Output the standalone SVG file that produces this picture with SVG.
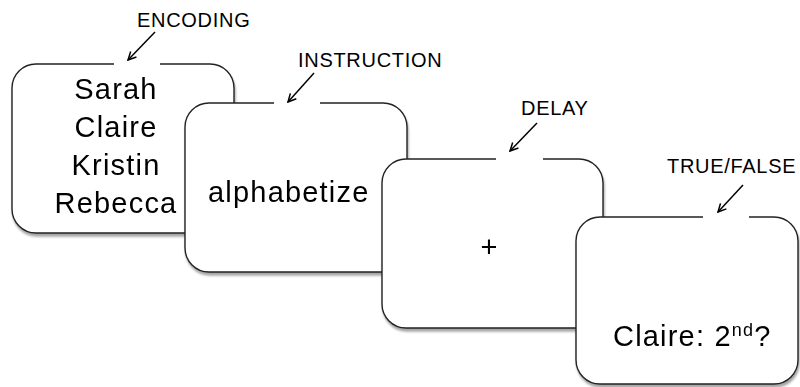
<svg xmlns="http://www.w3.org/2000/svg" width="800" height="387" viewBox="0 0 800 387">
<style>
  .bg { fill: #ffffff; stroke: none; }
  .edge { fill: none; stroke: #222222; stroke-width: 1.4; }
  .box { filter: url(#shadow); }
  .main { font-family: "Liberation Sans", Arial, sans-serif; font-size: 29px; fill: #000000; letter-spacing: 1.2px; }
  .label { font-family: "Liberation Sans", Arial, sans-serif; font-size: 20px; fill: #000000; letter-spacing: 0.7px; }
  .arrow { stroke: #000000; stroke-width: 1.5; fill: none; marker-end: url(#head); }
</style>
<defs>
  <filter id="shadow" x="-10%" y="-10%" width="125%" height="125%">
    <feDropShadow dx="1" dy="3" stdDeviation="1.2" flood-color="#000000" flood-opacity="0.35"/>
  </filter>
  <marker id="head" viewBox="0 0 10 10" refX="9" refY="5" markerWidth="10" markerHeight="10" markerUnits="userSpaceOnUse" orient="auto">
    <path d="M1,1 L9,5 L1,9" fill="none" stroke="#000000" stroke-width="1.5"/>
  </marker>
</defs>
<rect width="800" height="387" fill="#ffffff"/>

<g id="encoding" class="box">
  <rect class="bg" x="12" y="64" width="222" height="169" rx="24"/>
  <path class="edge" d="M160 64 H210 A24 24 0 0 1 234 88 V209 A24 24 0 0 1 210 233 H36 A24 24 0 0 1 12 209 V88 A24 24 0 0 1 36 64 H114"/>
  <text class="main" x="116" y="99" text-anchor="middle">Sarah</text>
  <text class="main" x="116" y="137" text-anchor="middle">Claire</text>
  <text class="main" x="116" y="175" text-anchor="middle">Kristin</text>
  <text class="main" x="116" y="213" text-anchor="middle">Rebecca</text>
</g>

<g id="instruction" class="box">
  <rect class="bg" x="185" y="103" width="222" height="169" rx="24"/>
  <path class="edge" d="M320 103 H383 A24 24 0 0 1 407 127 V248 A24 24 0 0 1 383 272 H209 A24 24 0 0 1 185 248 V127 A24 24 0 0 1 209 103 H274"/>
  <text class="main" x="208" y="202">alphabetize</text>
</g>

<g id="delay" class="box">
  <rect class="bg" x="382" y="159" width="221" height="169" rx="24"/>
  <path class="edge" d="M543 159 H579 A24 24 0 0 1 603 183 V304 A24 24 0 0 1 579 328 H406 A24 24 0 0 1 382 304 V183 A24 24 0 0 1 406 159 H496"/>
  <text class="main" x="489" y="257" text-anchor="middle" style="letter-spacing:0">+</text>
</g>

<g id="truefalse" class="box">
  <rect class="bg" x="576" y="217" width="222" height="167" rx="24"/>
  <path class="edge" d="M749 217 H774 A24 24 0 0 1 798 241 V360 A24 24 0 0 1 774 384 H600 A24 24 0 0 1 576 360 V241 A24 24 0 0 1 600 217 H703"/>
  <text class="main" x="613" y="346">Claire: 2<tspan font-size="18" dy="-10">nd</tspan><tspan dy="10">?</tspan></text>
</g>

<g id="labels">
  <text class="label" x="137" y="27">ENCODING</text>
  <text class="label" x="298" y="67">INSTRUCTION</text>
  <text class="label" x="521" y="115">DELAY</text>
  <text class="label" x="667" y="173">TRUE/FALSE</text>
</g>

<g id="connectors">
  <line class="arrow" x1="155" y1="32" x2="128" y2="60"/>
  <line class="arrow" x1="314" y1="73" x2="288" y2="102"/>
  <line class="arrow" x1="537" y1="123" x2="510" y2="151"/>
  <line class="arrow" x1="743" y1="185" x2="718" y2="212"/>
</g>
</svg>
